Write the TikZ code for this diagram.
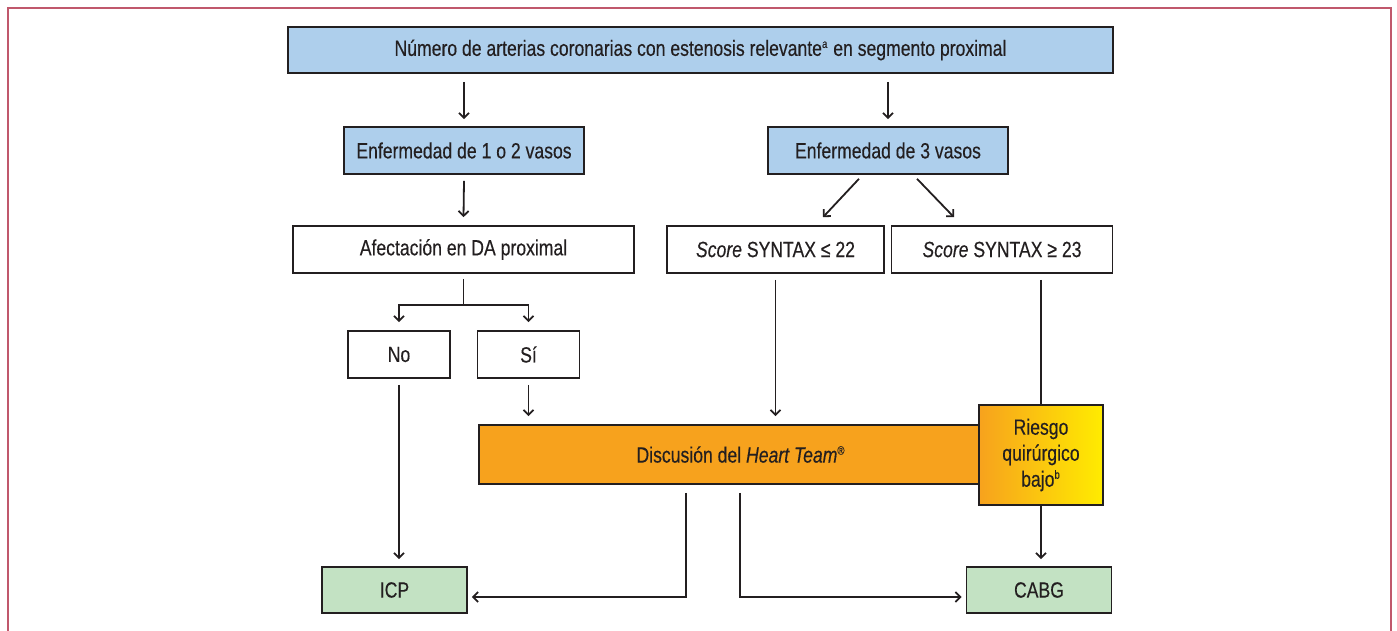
\documentclass[tikz,border=0pt]{standalone}
\usepackage{fontspec}
\setmainfont{Liberation Sans}[FakeStretch=0.8,FakeBold=0.3]
\usetikzlibrary{arrows.meta, calc}
\definecolor{boxblue}{RGB}{174,207,236}
\definecolor{boxgreen}{RGB}{195,226,195}
\definecolor{heartorange}{RGB}{247,162,29}
\definecolor{riskyellow}{RGB}{255,236,0}
\definecolor{framered}{RGB}{192,88,108}
\definecolor{ink}{RGB}{35,31,32}
\newcommand{\supmark}[1]{\textsuperscript{\fontsize{6}{6}\selectfont #1}}

\begin{document}
\begin{tikzpicture}[x=0.5pt,y=-0.5pt,
  every node/.style={draw=ink,line width=0.8pt,inner sep=0pt,text=ink,
    font=\fontsize{11}{13}\selectfont},
  bluebox/.style={fill=boxblue,minimum height=23.5pt},
  whitebox/.style={fill=white,minimum height=23.5pt},
  greenbox/.style={fill=boxgreen,minimum width=72.5pt,minimum height=23pt},
  link/.style={draw=ink,line width=0.9pt},
  arr/.style={link,-{Straight Barb[length=2.5pt,width=5pt]}}]
  \useasboundingbox (0,0) rectangle (1397,631);
  \draw[framered,line width=1pt] (8,631) -- (8,8) -- (1391,8) -- (1391,631);

  \node[bluebox,minimum width=412.5pt,minimum height=23pt] (top) at (700.5,50)
    {Número de arterias coronarias con estenosis relevante\supmark{a} en segmento proximal};
  \node[bluebox,minimum width=120pt] (e12) at (464,150.5) {Enfermedad de 1 o 2 vasos};
  \node[bluebox,minimum width=120pt] (e3) at (888,150.5) {Enfermedad de 3 vasos};
  \node[whitebox,minimum width=170.5pt] (da) at (463.5,249.5) {Afectación en DA proximal};
  \node[whitebox,minimum width=108.5pt] (s22) at (775.5,249.5) {\textit{Score} SYNTAX ≤ 22};
  \node[whitebox,minimum width=110.5pt] (s23) at (1002,249.5) {\textit{Score} SYNTAX ≥ 23};
  \node[whitebox,minimum width=51pt] (no) at (399,354.5) {No};
  \node[whitebox,minimum width=51pt] (si) at (528.5,354.5) {Sí};
  \node[fill=heartorange,minimum width=262pt,minimum height=29.5pt] (heart) at (741,454.5)
    {Discusión del \textit{Heart Team}\supmark{®}};
  \node[greenbox] (icp) at (394.5,590) {ICP};
  \node[greenbox] (cabg) at (1039,590) {CABG};

  % upper part
  \draw[arr] ($(top.south -| e12.north)+(0,8)$) -- ($(e12.north)+(0,-7)$);
  \draw[arr] ($(top.south -| e3.north)+(0,8)$) -- ($(e3.north)+(0,-7)$);
  \draw[arr] ($(e12.south)+(0,6)$) -- ($(da.north)+(0,-8)$);
  \draw[arr] ($(e3.south)+(-29,4)$) -- ($(s22.north)+(47.5,-8)$);
  \draw[arr] ($(e3.south)+(29,4)$) -- ($(s23.north)+(-48,-8)$);
  \draw[link] ($(da.south)+(0,5)$) -- ++(0,26) coordinate (fork);
  \draw[arr] (fork) -| ($(no.north)+(0,-8)$);
  \draw[arr] (fork) -| ($(si.north)+(0,-8)$);

  % risk box on top of the discussion bar
  \node[left color=heartorange,right color=riskyellow,minimum width=62pt,minimum height=50pt,
    align=center] (riesgo) at (1041,455) {Riesgo\\quirúrgico\\bajo\supmark{b}};

  % lower part
  \draw[arr] ($(no.south)+(0,6)$) -- ($(icp.north -| no.south)+(0,-7)$);
  \draw[arr] ($(si.south)+(0,6)$) -- ($(heart.north -| si.south)+(0,-8)$);
  \draw[arr] ($(s22.south)+(0,6)$) -- ($(heart.north -| s22.south)+(0,-8)$);
  \draw[link] ($(s23.south -| riesgo.north)+(0,6)$) -- (riesgo.north);
  \draw[arr] (riesgo.south) -- ($(cabg.north -| riesgo.south)+(0,-7)$);
  \draw[arr] ($(heart.south)+(-55,8)$) |- ($(icp.east)+(4,7)$);
  \draw[arr] ($(heart.south)+(-1,8)$) |- ($(cabg.west)+(-4,7)$);
\end{tikzpicture}
\end{document}
